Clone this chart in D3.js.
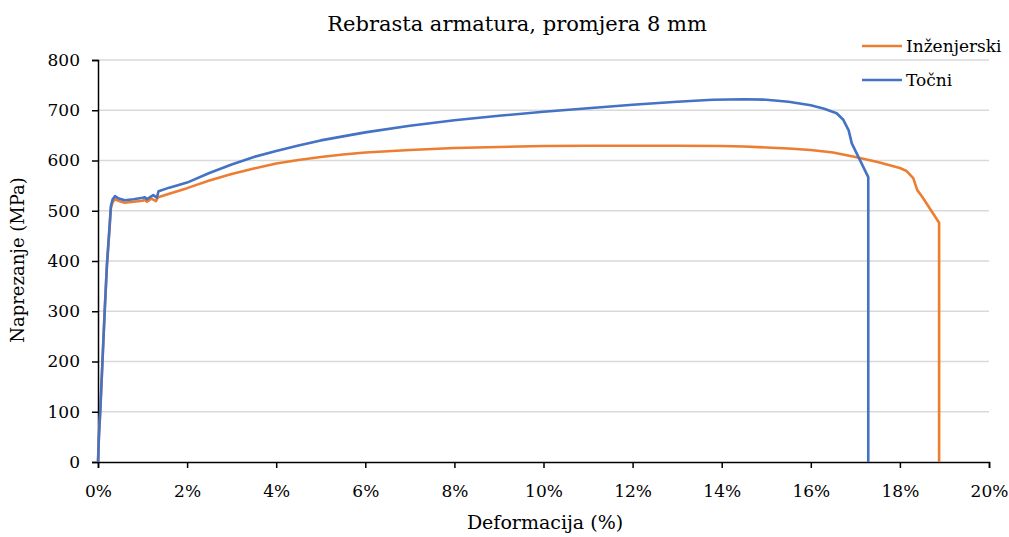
<!DOCTYPE html>
<html><head><meta charset="utf-8">
<script src="https://cdn.jsdelivr.net/npm/d3@7"></script>
<style>body{margin:0;background:#fff}svg{display:block}text{font-family:"DejaVu Serif",serif;fill:#000}</style>
</head><body><svg id="c" width="1009" height="537"></svg>
<script>
const seriesNames = ["Inženjerski", "Točni"];
const seriesColors = ["#ED7D31", "#4472C4"];
const xTicks = [0, 2, 4, 6, 8, 10, 12, 14, 16, 18, 20];
const yTicks = [0, 100, 200, 300, 400, 500, 600, 700, 800];
// strain (%) and stress (MPa)
const engStrain = [0,0.02,0.05,0.1,0.15,0.2,0.26,0.29,0.33,0.38,0.45,0.6,0.8,1.0,1.05,1.1,1.2,1.3,1.35,1.6,2.0,2.5,3.0,3.5,4.0,4.5,5.0,5.5,6.0,7.0,8.0,9.0,10.0,11,12,13,14,14.5,15,15.5,16,16.5,17,17.5,18.0,18.15,18.3,18.39,18.5,18.88,18.88];
const engStress = [0,50,100,200,300,390,466,506,517,523,520,516,518,520,522,518,524,519,527,534,545,560,573,584,594,601,607,612,616,621,625,627,629,629.5,629.5,629.5,629,628,626,624,621,616,607,597,585,579,565,541,528,476,0];
const trueStrain = [0,0.02,0.05,0.1,0.15,0.2,0.26,0.29,0.33,0.38,0.45,0.6,0.8,1.0,1.05,1.1,1.24,1.32,1.36,1.6,2.0,2.5,3.0,3.5,4.0,4.5,5.0,5.5,6.0,7.0,8.0,9.0,10.0,11.0,12.0,13.0,13.8,14.5,15.0,15.5,16.0,16.3,16.58,16.73,16.85,16.92,17.29,17.29];
const trueStress = [0,50,100,200,300,392,470,510,523,529,525,521,523,526,527,523,531,526,539,546,556,575,592,607,619,630,640,648,656,669,680,689,697,704,711,717,721,722,721,717,710,703,694,681,660,634,567,0];

const svg = d3.select("#c");
const x = d3.scaleLinear().domain([0, 20]).range([98, 989]);
const y = d3.scaleLinear().domain([0, 800]).range([462, 60]);

// gridlines
svg.append("g").selectAll("line").data(yTicks.filter(d => d > 0)).join("line")
  .attr("x1", x(0)).attr("x2", x(20)).attr("y1", d => y(d)).attr("y2", d => y(d))
  .attr("stroke", "#d9d9d9").attr("stroke-width", 1.3);

const ya = svg.append("g").attr("transform", `translate(${x(0)},0)`)
  .call(d3.axisLeft(y).tickValues(yTicks).tickSizeOuter(0).tickSize(6).tickPadding(12));
const xa = svg.append("g").attr("transform", `translate(0,${y(0)})`)
  .call(d3.axisBottom(x).tickValues(xTicks).tickFormat(d => d + "%").tickSizeOuter(0).tickSize(6).tickPadding(17));
[ya, xa].forEach(a => {
  a.select(".domain").attr("stroke", "#000").attr("stroke-width", 1.5);
  a.selectAll(".tick line").attr("stroke", "#000").attr("stroke-width", 1.5);
  a.selectAll(".tick text").style("font-family", '"DejaVu Serif",serif').style("font-size", "17px").attr("fill", "#000");
});

const line = d3.line().x(d => x(d[0])).y(d => y(d[1]));
const data = [d3.zip(engStrain, engStress), d3.zip(trueStrain, trueStress)];
data.forEach((d, i) => {
  svg.append("path").datum(d).attr("d", line).attr("fill", "none")
    .attr("stroke", seriesColors[i]).attr("stroke-width", 2.6).attr("stroke-linejoin", "round");
});

svg.append("text").attr("x", 517).attr("y", 31).attr("text-anchor", "middle")
  .style("font-size", "21px").text("Rebrasta armatura, promjera 8 mm");
svg.append("text").attr("x", 545).attr("y", 529).attr("text-anchor", "middle")
  .style("font-size", "19px").text("Deformacija (%)");
svg.append("text").attr("transform", "translate(24,260) rotate(-90)").attr("text-anchor", "middle")
  .style("font-size", "18px").text("Naprezanje (MPa)");

const lg = svg.append("g");
seriesNames.forEach((n, i) => {
  const yy = 46 + i * 34;
  lg.append("line").attr("x1", 862).attr("x2", 902).attr("y1", yy).attr("y2", yy)
    .attr("stroke", seriesColors[i]).attr("stroke-width", 2.6);
  lg.append("text").attr("x", 906).attr("y", yy + 6).style("font-size", "17px").text(n);
});
</script></body></html>
